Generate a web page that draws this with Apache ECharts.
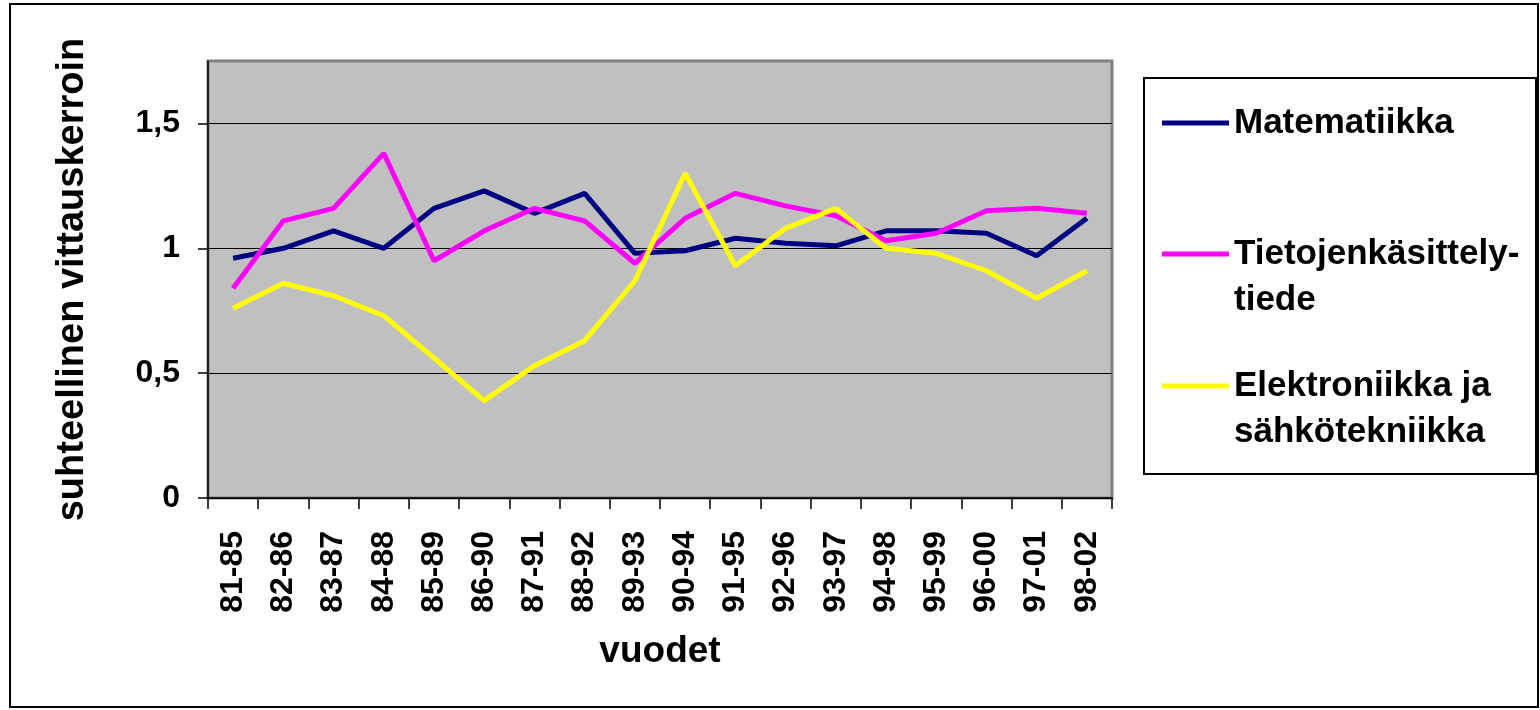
<!DOCTYPE html>
<html>
<head>
<meta charset="utf-8">
<script src="https://cdn.jsdelivr.net/npm/echarts@6/dist/echarts.min.js"></script>
<style>
html,body{margin:0;padding:0;background:#fff;}
#chart{width:1540px;height:710px;}
</style>
</head>
<body>
<div id="chart"></div>
<script>
const categories = ['81-85','82-86','83-87','84-88','85-89','86-90','87-91','88-92','89-93','90-94','91-95','92-96','93-97','94-98','95-99','96-00','97-01','98-02'];
const matematiikka = [0.96, 1.00, 1.07, 1.00, 1.16, 1.23, 1.14, 1.22, 0.98, 0.99, 1.04, 1.02, 1.01, 1.07, 1.07, 1.06, 0.97, 1.12];
const tietojenkasittely = [0.84, 1.11, 1.16, 1.38, 0.95, 1.07, 1.16, 1.11, 0.94, 1.12, 1.22, 1.17, 1.13, 1.03, 1.06, 1.15, 1.16, 1.14];
const elektroniikka = [0.76, 0.86, 0.81, 0.73, 0.56, 0.39, 0.53, 0.63, 0.87, 1.30, 0.93, 1.08, 1.16, 1.00, 0.98, 0.91, 0.80, 0.91];
const yTicks = [0, 0.5, 1, 1.5];
const seriesNames = ['Matematiikka', 'Tietojenkäsittely-tiede', 'Elektroniikka ja sähkötekniikka'];
const legendLabels = ['Matematiikka', '\nTietojenkäsittely-\ntiede', '\nElektroniikka ja\nsähkötekniikka'];

const FONT = "'Liberation Sans', Arial, sans-serif";
const chart = echarts.init(document.getElementById('chart'));

const legendTops = [100, 185, 317];
const legendCommon = {
  orient: 'vertical', left: 1162, padding: 0, icon: 'rect',
  itemWidth: 67, itemHeight: 5, selectedMode: false,
  textStyle: {fontFamily: FONT, fontSize: 35, fontWeight: 'bold', color: '#000', lineHeight: 46}
};

const option = {
  animation: false,
  backgroundColor: '#fff',
  textStyle: {fontFamily: FONT},
  graphic: [
    {type: 'rect', z: -10, shape: {x: 10, y: 4, width: 1528, height: 703}, style: {fill: null, stroke: '#000', lineWidth: 2}},
    {type: 'rect', z: -5, shape: {x: 1144, y: 78, width: 392, height: 396}, style: {fill: '#fff', stroke: '#000', lineWidth: 2}}
  ],
  grid: {left: 208, right: 428, top: 61, bottom: 212, show: true, backgroundColor: '#C0C0C0', borderColor: '#808080', borderWidth: 3},
  legend: seriesNames.map((n, i) => Object.assign({}, legendCommon, {
    top: legendTops[i], data: [n], formatter: () => legendLabels[i]
  })),
  xAxis: {
    type: 'category', data: categories, boundaryGap: true,
    axisLine: {lineStyle: {color: '#000', width: 1.5}},
    axisTick: {show: true, interval: 0, length: 11, lineStyle: {color: '#000', width: 1.5}},
    axisLabel: {interval: 0, rotate: 90, margin: 33, fontSize: 32, fontWeight: 'bold', color: '#000', fontFamily: FONT},
    name: 'vuodet', nameLocation: 'middle', nameGap: 135,
    nameTextStyle: {fontSize: 37, fontWeight: 'bold', color: '#000', fontFamily: FONT}
  },
  yAxis: {
    type: 'value', min: 0, max: 1.75, interval: 0.5,
    axisLine: {show: true, lineStyle: {color: '#000', width: 1.5}},
    axisTick: {show: true, length: 10, customValues: yTicks, lineStyle: {color: '#000', width: 1.5}},
    axisLabel: {customValues: yTicks, margin: 28, fontSize: 32, fontWeight: 'bold', color: '#000', fontFamily: FONT,
      formatter: v => String(v).replace('.', ',')},
    splitLine: {show: true, lineStyle: {color: '#000', width: 1}},
    name: 'suhteellinen vittauskerroin', nameLocation: 'middle', nameGap: 116,
    nameTextStyle: {fontSize: 38, fontWeight: 'bold', color: '#000', fontFamily: FONT}
  },
  series: [
    {name: seriesNames[0], type: 'line', data: matematiikka, symbol: 'none', color: '#000080', lineStyle: {width: 5, color: '#000080'}},
    {name: seriesNames[1], type: 'line', data: tietojenkasittely, symbol: 'none', color: '#FF00FF', lineStyle: {width: 5, color: '#FF00FF'}},
    {name: seriesNames[2], type: 'line', data: elektroniikka, symbol: 'none', color: '#FFFF00', lineStyle: {width: 5, color: '#FFFF00'}}
  ]
};
chart.setOption(option);
</script>
</body>
</html>
